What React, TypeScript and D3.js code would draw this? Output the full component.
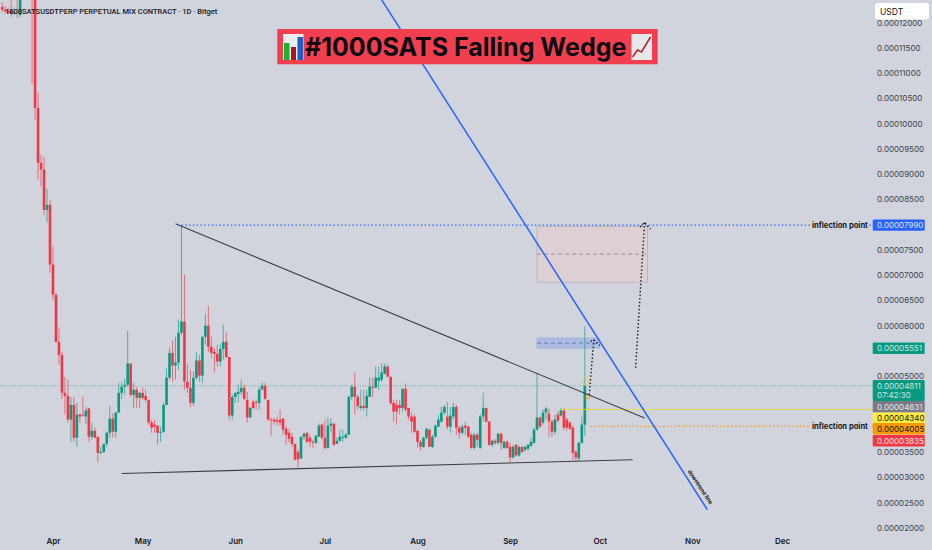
import { useEffect, useRef } from "react";
import * as d3 from "d3";

// prices are in 1e-8 USDT, every candle row is [open, high, low, close]
const crashCandles = [
  [12310, 12400, 12200, 12250], [12250, 12330, 12180, 12220], [12220, 12300, 12170, 12190],
  [12250, 12600, 12110, 12180], [12180, 12300, 12150, 12200], [12800, 13100, 12090, 12500],
  [12150, 13000, 12100, 12450], [13000, 15000, 12600, 14500], [14500, 16000, 13800, 15500],
  [15500, 16500, 14200, 14800], [14800, 15000, 10770, 13000], [13000, 13800, 10070, 10310],
  [10310, 10610, 8890, 9220], [9220, 9380, 8750, 9090], [9090, 9340, 8190, 8290],
  [8290, 8710, 8040, 8390], [8390, 8490, 7050, 7210], [7210, 7560, 6510, 6610],
];

const springCandles = [
  [6610, 6650, 5660, 5680], [5680, 5960, 5230, 5420], [5420, 5480, 4550, 4670], [4670, 4990, 4240, 4610],
  [4610, 4930, 4080, 4140], [4140, 4590, 3700, 4430], [4430, 4590, 3700, 3780], [3780, 4470, 3600, 4240],
  [4240, 4260, 4080, 4200], [4240, 4590, 4200, 4220], [4200, 4390, 4040, 4320], [4360, 4370, 3700, 3800],
  [3800, 4080, 3740, 3920], [3920, 3980, 3780, 3780], [3800, 3800, 3290, 3480], [3480, 3600, 3450, 3500],
  [3500, 3660, 3480, 3660], [3660, 3900, 3600, 3880], [3880, 4410, 3780, 4160], [4160, 4260, 3780, 3900],
  [3900, 4280, 3780, 4280], [4280, 4870, 4280, 4670], [4670, 4870, 4550, 4790], [4790, 4950, 4630, 4830],
  [4830, 5900, 4790, 5250], [5250, 5250, 4590, 4630], [4630, 4870, 4370, 4730], [4730, 4790, 4370, 4570],
  [4570, 4690, 4370, 4670], [4670, 4770, 4530, 4570],
];

const mayCandles = [
  [4610, 4730, 4490, 4530], [4530, 4530, 4040, 4080], [4080, 4140, 3880, 3980], [4040, 4140, 3880, 4000],
  [4020, 4020, 3640, 3880], [3880, 4000, 3700, 3900], [3900, 4470, 3880, 4430], [4430, 5150, 4430, 4970],
  [4970, 5560, 4930, 5460], [5460, 5700, 4890, 5210], [5210, 5780, 4930, 5270], [5270, 6120, 5130, 5860],
  [5860, 7990, 5820, 6080], [6080, 7010, 4730, 4890], [4890, 5230, 4670, 4770], [4770, 5130, 4390, 4470],
  [4470, 5090, 4410, 4970], [4970, 5480, 4930, 5310], [5310, 5420, 4890, 5010], [5010, 5780, 4870, 5780],
  [5780, 6240, 5620, 6000], [6000, 6390, 5480, 5580], [5580, 5780, 5360, 5460], [5480, 5560, 5070, 5440],
  [5440, 5620, 5190, 5290], [5290, 5640, 5190, 5540], [5540, 6020, 5330, 5680], [5680, 5880, 5360, 5380],
  [5380, 5380, 4140, 4220], [4220, 4630, 4140, 4590], [4590, 4670, 4470, 4670],
];

const juneCandles = [
  [4650, 4830, 4490, 4690], [4690, 4930, 4630, 4770], [4770, 4830, 4530, 4550], [4530, 4690, 4080, 4180],
  [4180, 4390, 4180, 4370], [4490, 4530, 4340, 4370], [4490, 4530, 4340, 4470], [4470, 4790, 4340, 4730],
  [4730, 4870, 4730, 4810], [4810, 4870, 4530, 4550], [4530, 4530, 4120, 4140], [4140, 4180, 3820, 4120],
  [4140, 4180, 4040, 4100], [4130, 4200, 4020, 4100], [4140, 4340, 4020, 4080], [4160, 4160, 3840, 3940],
  [3960, 4020, 3640, 3840], [3880, 3960, 3680, 3760], [3800, 3880, 3600, 3660], [3660, 3660, 3330, 3350],
  [3500, 3540, 3190, 3350], [3370, 3800, 3370, 3800], [3800, 3880, 3740, 3860], [3880, 3880, 3680, 3700],
  [3780, 3840, 3600, 3700], [3700, 3740, 3580, 3680], [3680, 3840, 3660, 3820], [3800, 4060, 3800, 4020],
  [4040, 4060, 3740, 3780], [3780, 4140, 3540, 3580],
];

const summerCandles = [
  [3580, 4180, 3560, 4020], [4020, 4160, 3880, 4060], [4060, 4060, 3620, 3640], [3660, 3780, 3660, 3720],
  [3720, 3940, 3700, 3800], [3780, 3940, 3700, 3800], [3780, 3880, 3760, 3840], [3840, 4610, 3840, 4590],
  [4590, 4830, 4530, 4790], [4790, 5070, 4240, 4590], [4590, 4630, 4340, 4410], [4370, 4730, 4320, 4410],
  [4410, 4730, 4320, 4370], [4370, 4730, 4200, 4610], [4590, 4970, 4590, 4790], [4790, 4970, 4590, 4770],
  [4770, 5190, 4770, 4970], [4910, 5190, 4730, 4970], [4930, 5250, 4890, 5070], [5050, 5250, 5030, 5190],
  [5190, 5230, 4970, 4990], [4990, 4990, 4430, 4470], [4470, 4530, 4100, 4300], [4430, 4530, 4040, 4300],
  [4430, 4530, 4240, 4370], [4370, 4750, 4300, 4750], [4750, 4850, 4300, 4340], [4370, 4370, 4140, 4200],
  [4200, 4280, 3880, 4100], [4200, 4240, 3880, 3900], [3920, 3920, 3580, 3700], [3700, 3740, 3520, 3600],
  [3600, 3800, 3580, 3780], [3780, 3980, 3740, 3960], [3940, 3960, 3600, 3600], [3600, 3840, 3580, 3800],
  [3800, 4040, 3780, 4020], [4000, 4240, 4000, 4140], [4100, 4390, 4080, 4280], [4280, 4430, 4240, 4390],
  [4200, 4490, 3940, 4000], [4000, 4390, 3880, 4220], [4200, 4470, 4140, 4390], [4390, 4430, 3840, 3980],
  [3980, 4020, 3760, 3880], [3880, 4040, 3840, 4000], [4020, 4100, 3840, 3980], [4000, 4020, 3780, 3800],
];

const septemberCandles = [
  [3840, 3880, 3560, 3580], [3580, 3880, 3540, 3840], [3840, 3880, 3600, 3740], [3580, 4240, 3560, 4200],
  [4200, 4670, 4100, 4370], [4370, 4370, 4080, 4100], [4100, 4100, 3620, 3640], [3640, 3740, 3600, 3720],
  [3720, 3760, 3640, 3680], [3680, 3880, 3640, 3860], [3860, 3880, 3540, 3680], [3580, 3720, 3560, 3700],
  [3700, 3740, 3560, 3580], [3600, 3680, 3290, 3390], [3390, 3640, 3370, 3600], [3640, 3660, 3410, 3430],
  [3430, 3620, 3410, 3600], [3600, 3620, 3480, 3500], [3540, 3620, 3500, 3600], [3560, 3660, 3520, 3640],
  [3620, 3780, 3600, 3700], [3680, 3980, 3660, 3940], [3940, 5070, 3920, 4180], [4180, 4200, 3980, 4000],
  [4080, 4340, 4040, 4280], [4280, 4390, 4140, 4360], [4260, 4360, 3800, 4100], [4100, 4140, 3800, 3900],
  [3900, 4240, 3840, 4140], [4240, 4300, 4080, 4120], [4220, 4370, 4200, 4320], [4320, 4370, 3940, 3980],
  [4140, 4180, 3920, 3980], [4080, 4100, 3940, 3960], [3980, 4020, 3330, 3480], [3500, 3540, 3310, 3390],
  [3370, 3700, 3330, 3680], [3680, 4200, 3660, 4040], [4040, 5980, 3820, 4811],
];

const firstCandleDate = Date.UTC(2024, 2, 15);
// the ticks at 4000, 4500, 5500 and 8000 are covered by price tags
const priceTicks = [
  2000, 2500, 3000, 3500, 5000, 6000, 6500, 7000, 7500, 8500, 9000, 9500, 10000, 10500, 11000, 11500, 12000,
];
const monthTicks = [3, 4, 5, 6, 7, 8, 9, 10, 11].map((m) => new Date(Date.UTC(2024, m, 1)));

// drawings, as [date, price]
const supportLine = [["2024-04-24", 3074], ["2024-10-12", 3346]];
const wedgeLine = [["2024-05-12", 8016], ["2024-10-16", 4171]];
const downtrendLine = [["2024-07-20", 12449], ["2024-11-06", 2356]];
const firstArrow = [["2024-09-27T12:00Z", 4632], ["2024-09-29", 5720]];
const firstArrowHead = [["2024-09-28", 5687], ["2024-09-29", 5720], ["2024-10-01", 5608]];
const secondArrow = [["2024-10-13", 5166], ["2024-10-16", 8042]];
const secondArrowHead = [["2024-10-14T12:00Z", 7951], ["2024-10-16", 8042], ["2024-10-18", 7911]];

const targetZone = { from: "2024-09-10", to: "2024-10-17", top: 7960, mid: 7416, bottom: 6860 };
const entryZone = { from: "2024-09-10", to: "2024-10-01", top: 5754, mid: 5655, bottom: 5556 };

const lastPrice = 4811;
const targetLevel = 7990;
const supportLevel = 4340;
const inflectionLevel = 4005;

const priceTags = [7990, 5551, 4811, 4631, 4340, 4005, 3835];
const tagColors = ["#2962FF", "#089981", "#089981", "#787B86", "#FFEB3B", "#FF9800", "#F23645"];
const tagTextColors = ["#dfe6fb", "#cfe9e4", "#cfe9e4", "#e6e7ea", "#131722", "#131722", "#fbe3e5"];
// the tags push each other apart, so some sit off their price
const tagNudge = [0, 0, 0, 12, 8.7, 2.3, 5.7];

const up = "#089981";
const down = "#F23645";
const font = "Inter, 'Noto Sans', sans-serif";
const fmt = (v: number) => (v / 1e8).toFixed(8);

const App = () => {
  const svgRef = useRef<SVGSVGElement>(null);

  useEffect(() => {
    if (!svgRef.current) return;
    const svg = d3.select(svgRef.current);
    svg.selectAll("*").remove();

    const x = d3
      .scaleUtc()
      .domain([new Date(Date.UTC(2024, 3, 1)), new Date(Date.UTC(2024, 11, 1))])
      .range([53, 782]);
    const y = d3.scaleLinear().domain([2000, 11500]).range([527.7, 47.8]);
    const px = (d: string) => x(new Date(d));

    const candles = [
      ...crashCandles,
      ...springCandles,
      ...mayCandles,
      ...juneCandles,
      ...summerCandles,
      ...septemberCandles,
    ].map((c, i) => ({
      date: d3.utcDay.offset(new Date(firstCandleDate), i),
      open: c[0],
      high: c[1],
      low: c[2],
      close: c[3],
    }));

    svg.append("rect").attr("width", 932).attr("height", 550).attr("fill", "#D1D4DC");

    // last price line sits under the candles
    svg
      .append("line")
      .attr("x1", 0)
      .attr("x2", 873)
      .attr("y1", y(lastPrice))
      .attr("y2", y(lastPrice))
      .attr("stroke", up)
      .attr("stroke-width", 0.8)
      .attr("stroke-opacity", 0.7)
      .attr("stroke-dasharray", "1 1.5");

    // zones
    [
      { zone: targetZone, fill: "#F9C7C8", border: "#b9aeb6", fillOpacity: 0.3, mid: "#8d7c84" },
      { zone: entryZone, fill: "#2962FF", border: "#9fb0dc", fillOpacity: 0.22, mid: "#5a6a9c" },
    ].forEach(({ zone, fill, border, fillOpacity, mid }) => {
      svg
        .append("rect")
        .attr("x", px(zone.from))
        .attr("y", y(zone.top))
        .attr("width", px(zone.to) - px(zone.from))
        .attr("height", y(zone.bottom) - y(zone.top))
        .attr("fill", fill)
        .attr("fill-opacity", fillOpacity)
        .attr("stroke", border)
        .attr("stroke-width", 0.8);
      svg
        .append("line")
        .attr("x1", px(zone.from))
        .attr("x2", px(zone.to))
        .attr("y1", y(zone.mid))
        .attr("y2", y(zone.mid))
        .attr("stroke", mid)
        .attr("stroke-width", 0.8)
        .attr("stroke-dasharray", "4 3");
    });

    // candles
    const candleGroup = svg.append("g");
    const candle = candleGroup.selectAll("g").data(candles).enter().append("g");
    candle
      .append("line")
      .attr("x1", (d) => x(d.date))
      .attr("x2", (d) => x(d.date))
      .attr("y1", (d) => y(d.high))
      .attr("y2", (d) => y(d.low))
      .attr("stroke", (d) => (d.close >= d.open ? up : down))
      .attr("stroke-width", 1)
      .attr("stroke-opacity", 0.65);
    candle
      .append("rect")
      .attr("x", (d) => x(d.date) - 1.3)
      .attr("width", 2.6)
      .attr("y", (d) => y(Math.max(d.open, d.close)))
      .attr("height", (d) => Math.max(0.8, Math.abs(y(d.open) - y(d.close))))
      .attr("fill", (d) => (d.close >= d.open ? up : down));

    // horizontal levels
    svg
      .append("line")
      .attr("x1", px("2024-05-14"))
      .attr("x2", 873)
      .attr("y1", y(targetLevel))
      .attr("y2", y(targetLevel))
      .attr("stroke", "#2962FF")
      .attr("stroke-width", 1.1)
      .attr("stroke-dasharray", "1.4 2.4");
    svg
      .append("line")
      .attr("x1", px("2024-09-18"))
      .attr("x2", 873)
      .attr("y1", y(supportLevel))
      .attr("y2", y(supportLevel))
      .attr("stroke", "#e9d94a")
      .attr("stroke-width", 1.2);
    svg
      .append("line")
      .attr("x1", px("2024-09-28"))
      .attr("x2", 873)
      .attr("y1", y(inflectionLevel))
      .attr("y2", y(inflectionLevel))
      .attr("stroke", "#FF9800")
      .attr("stroke-width", 1.1)
      .attr("stroke-dasharray", "1.4 2.4");

    // little handles where the levels were anchored
    svg
      .append("rect")
      .attr("x", px("2024-09-26") - 1.5)
      .attr("y", y(lastPrice) - 8)
      .attr("width", 5)
      .attr("height", 7)
      .attr("rx", 1.5)
      .attr("fill", "none")
      .attr("stroke", "#e3c74d")
      .attr("stroke-width", 0.9);
    svg
      .append("circle")
      .attr("cx", px("2024-09-27"))
      .attr("cy", y(4632) + 2)
      .attr("r", 2)
      .attr("fill", "none")
      .attr("stroke", "#FF9800")
      .attr("stroke-width", 1);
    svg
      .append("circle")
      .attr("cx", px("2024-09-27"))
      .attr("cy", y(supportLevel))
      .attr("r", 1.5)
      .attr("fill", "none")
      .attr("stroke", "#e3c74d")
      .attr("stroke-width", 0.9);

    // trend lines
    const linePath = d3
      .line<(string | number)[]>()
      .x((d) => px(d[0] as string))
      .y((d) => y(d[1] as number));
    svg
      .selectAll(".trend")
      .data([supportLine, wedgeLine])
      .enter()
      .append("path")
      .attr("d", (d) => linePath(d))
      .attr("fill", "none")
      .attr("stroke", "#3a3e49")
      .attr("stroke-width", 1.1);
    svg
      .append("path")
      .attr("d", linePath(downtrendLine))
      .attr("fill", "none")
      .attr("stroke", "#2962FF")
      .attr("stroke-width", 1.5);
    svg
      .selectAll(".arrow")
      .data([firstArrow, firstArrowHead, secondArrow, secondArrowHead])
      .enter()
      .append("path")
      .attr("d", (d) => linePath(d))
      .attr("fill", "none")
      .attr("stroke", "#10131b")
      .attr("stroke-width", 1.4)
      .attr("stroke-dasharray", "1.4 2.2");

    svg
      .append("text")
      .attr("transform", "translate(687.5,471.5) rotate(56)")
      .attr("font-family", font)
      .attr("font-size", 5.5)
      .attr("font-weight", 700)
      .attr("fill", "#131722")
      .text("downtrend line");

    // price axis
    const yAxis = svg
      .append("g")
      .attr("transform", "translate(877,0)")
      .call(d3.axisRight(y).tickValues(priceTicks).tickSize(0).tickPadding(0).tickFormat((d) => fmt(+d)));
    yAxis.select(".domain").remove();
    yAxis
      .selectAll("text")
      .attr("font-family", font)
      .attr("font-size", 8)
      .attr("fill", "#3a3e49");

    // time axis
    const xAxis = svg
      .append("g")
      .attr("transform", "translate(0,538)")
      .call(d3.axisBottom(x).tickValues(monthTicks).tickSize(0).tickPadding(0).tickFormat((d) => d3.utcFormat("%b")(d as Date)));
    xAxis.select(".domain").remove();
    xAxis
      .selectAll("text")
      .attr("font-family", font)
      .attr("font-size", 8)
      .attr("font-weight", 600)
      .attr("fill", "#131722");

    // scale box
    svg.append("rect").attr("x", 875).attr("y", 3).attr("width", 54).attr("height", 16.5).attr("rx", 3).attr("fill", "#fff");
    svg
      .append("text")
      .attr("x", 880)
      .attr("y", 14.5)
      .attr("font-family", font)
      .attr("font-size", 8.5)
      .attr("fill", "#131722")
      .text("USDT");

    // price tags
    priceTags.forEach((tag, i) => {
      const cy = y(tag) + tagNudge[i];
      const isLast = tag === lastPrice;
      svg
        .append("rect")
        .attr("x", 872.7)
        .attr("y", cy - 5.7)
        .attr("width", 52)
        .attr("height", isLast ? 21 : 11.4)
        .attr("rx", 1)
        .attr("fill", tagColors[i]);
      svg
        .append("text")
        .attr("x", 877)
        .attr("y", cy + 3)
        .attr("font-family", font)
        .attr("font-size", 8)
        .attr("fill", tagTextColors[i])
        .text(fmt(tag));
      if (isLast) {
        svg
          .append("text")
          .attr("x", 877)
          .attr("y", cy + 12.5)
          .attr("font-family", font)
          .attr("font-size", 8)
          .attr("fill", tagTextColors[i])
          .text("07:42:30");
      }
    });

    // level captions
    [targetLevel, inflectionLevel].forEach((level) => {
      svg
        .append("rect")
        .attr("x", 810)
        .attr("y", y(level) - 5)
        .attr("width", 59)
        .attr("height", 10)
        .attr("fill", "#D1D4DC");
      svg
        .append("text")
        .attr("x", 812)
        .attr("y", y(level) + 2.8)
        .attr("font-family", font)
        .attr("font-size", 7.6)
        .attr("font-weight", 700)
        .attr("fill", "#131722")
        .text("inflection point");
    });

    // symbol line
    svg
      .append("text")
      .attr("x", 5)
      .attr("y", 14)
      .attr("font-family", "Roboto, Inter, sans-serif")
      .attr("font-size", 7.5)
      .attr("font-weight", 500)
      .attr("fill", "#131722")
      .text("1000SATSUSDTPERP PERPETUAL MIX CONTRACT · 1D · Bitget");

    // title banner
    svg.append("rect").attr("x", 277.3).attr("y", 29).attr("width", 380.4).attr("height", 35.3).attr("fill", "#F23F4F");
    svg
      .append("text")
      .attr("x", 305)
      .attr("y", 56)
      .attr("font-family", font)
      .attr("font-size", 25)
      .attr("font-weight", 700)
      .attr("fill", "#0b0c10")
      .text("#1000SATS Falling Wedge");

    // the two emoji have no installed font, so they are drawn
    const barIcon = svg.append("g").attr("transform", "translate(283,34)");
    barIcon.append("rect").attr("width", 20.5).attr("height", 26).attr("fill", "#e8edf2");
    barIcon.append("rect").attr("x", 1).attr("y", 9).attr("width", 5.5).attr("height", 17).attr("fill", "#1db32a");
    barIcon.append("rect").attr("x", 8).attr("y", 13).attr("width", 5).attr("height", 13).attr("fill", "#b3141c");
    barIcon.append("rect").attr("x", 14.5).attr("y", 3).attr("width", 5.5).attr("height", 23).attr("fill", "#1f5fc4");
    const lineIcon = svg.append("g").attr("transform", "translate(631.5,34)");
    lineIcon.append("rect").attr("width", 20.5).attr("height", 26).attr("fill", "#e6e8ec");
    lineIcon
      .append("polyline")
      .attr("points", "1,23 6,16 10,18 19,3")
      .attr("fill", "none")
      .attr("stroke", "#b5262c")
      .attr("stroke-width", 1.6);
  }, []);

  return (
    <svg
      ref={svgRef}
      width={932}
      height={550}
      style={{ position: "absolute", left: 0, top: 0, display: "block" }}
    />
  );
};

export default App;
